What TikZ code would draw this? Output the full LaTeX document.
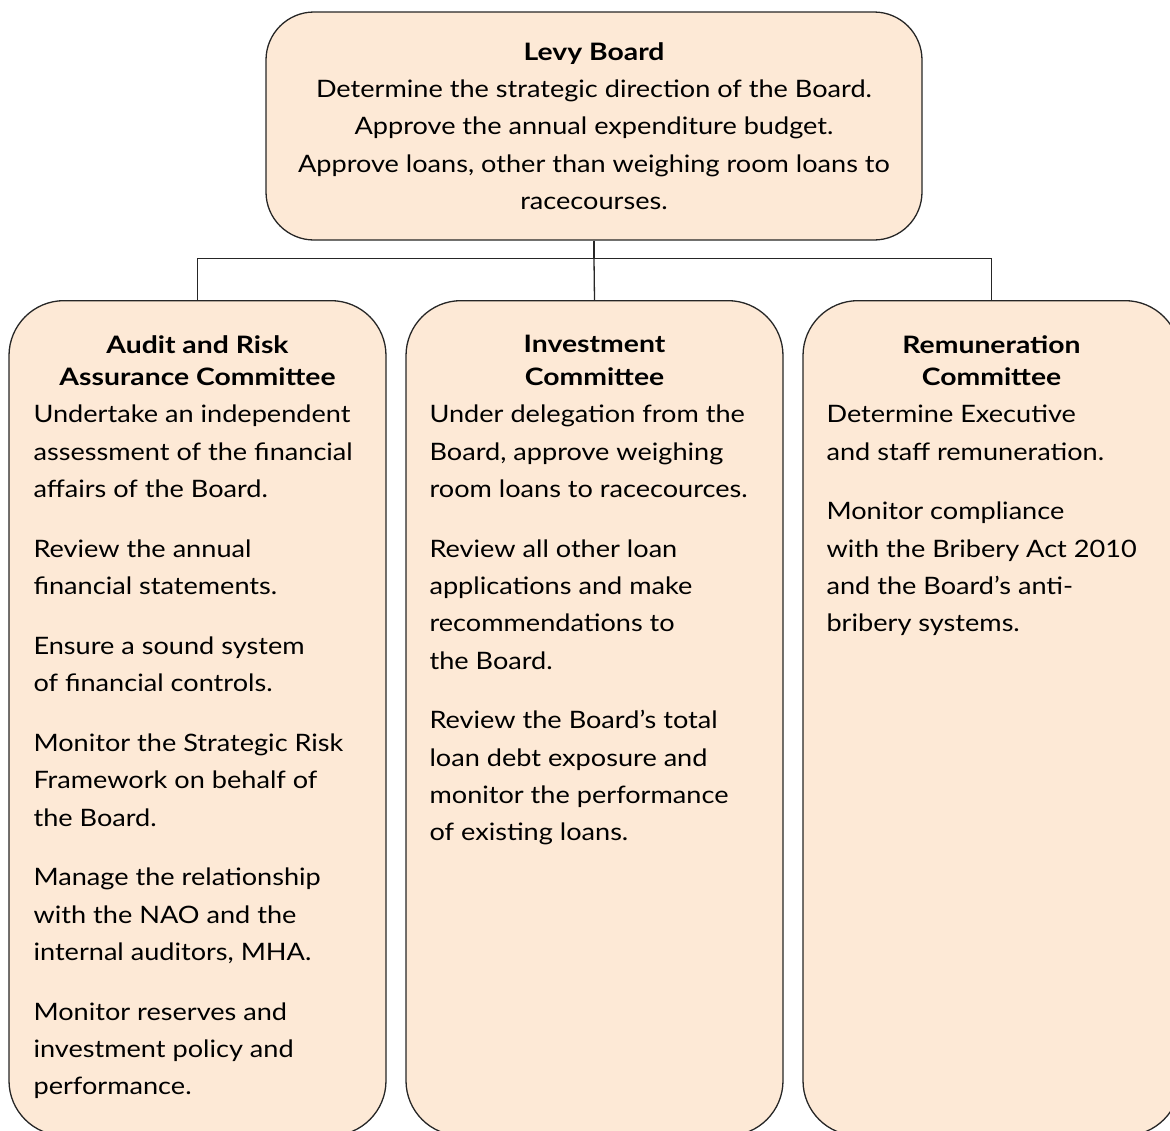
\documentclass[tikz,border=0pt]{standalone}
\usepackage{fontspec}
\setmainfont{Lato}[FakeStretch=1.13, BoldFeatures={FakeStretch=1.18}]
\usetikzlibrary{positioning}
\definecolor{peach}{RGB}{253,233,214}
\newcommand{\bodyfont}{\fontsize{24}{37.3}\selectfont}
\newcommand{\headfont}{\fontsize{24}{32.5}\selectfont\bfseries}
\newcommand{\gap}{\\[22.5pt]}
\tikzset{
	board/.style={draw=black!85, fill=peach, line width=1.3pt, rounded corners=48pt,
		minimum width=656pt, minimum height=228pt, align=center, font=\bodyfont, inner sep=0pt},
	committee/.style={draw=black!85, fill=peach, line width=1.3pt, rounded corners=55pt,
		minimum width=377pt, minimum height=835pt, anchor=north, inner sep=0pt},
	heading/.style={font=\headfont, align=center, inner sep=0pt},
	duties/.style={font=\bodyfont, align=left, inner sep=0pt},
	link/.style={line width=1.3pt, draw=black!85}
}
\begin{document}
\begin{tikzpicture}[x=1pt,y=-1pt]
	\useasboundingbox (0,0) rectangle (1170,1130);
	\clip (0,0) rectangle (1170,1130);
	% board
	\node[board] (levy) at (594,126) {{\bfseries Levy Board}\\
		Determine the strategic direction of the Board.\\
		Approve the annual expenditure budget.\\
		Approve loans, other than weighing room loans to\\
		racecourses.};
	% committees
	\node[committee] (audit) at (197.5,300) {};
	\node[committee] (invest) at (594.5,300) {};
	\node[committee] (remun) at (991.5,300) {};
	% links
	\draw[link] (levy.south) -- ++(0,18) coordinate (hub);
	\draw[link] (audit.north) |- (hub) -| (remun.north);
	\draw[link] (hub) -- (invest.north);
	% headings
	\node[heading, below=35pt of audit.north] (audit-head) {Audit and Risk\\Assurance Committee};
	\node[heading, below=35pt of invest.north] (invest-head) {Investment\\Committee};
	\node[heading, below=35pt of remun.north] (remun-head) {Remuneration\\Committee};
	% duties
	\node[duties, below right=105pt and 25pt of audit.north west] (audit-text) {Undertake an independent\\
		assessment of the financial\\
		affairs of the Board.\gap
		Review the annual\\
		financial statements.\gap
		Ensure a sound system\\
		of financial controls.\gap
		Monitor the Strategic Risk\\
		Framework on behalf of\\
		the Board.\gap
		Manage the relationship\\
		with the NAO and the\\
		internal auditors, MHA.\gap
		Monitor reserves and\\
		investment policy and\\
		performance.};
	\node[duties, below right=105pt and 24pt of invest.north west] (invest-text) {Under delegation from the\\
		Board, approve weighing\\
		room loans to racecources.\gap
		Review all other loan\\
		applications and make\\
		recommendations to\\
		the Board.\gap
		Review the Board’s total\\
		loan debt exposure and\\
		monitor the performance\\
		of existing loans.};
	\node[duties, below right=105pt and 24pt of remun.north west] (remun-text) {Determine Executive\\
		and staff remuneration.\gap
		Monitor compliance\\
		with the Bribery Act 2010\\
		and the Board’s anti-\\
		bribery systems.};
\end{tikzpicture}
\end{document}
